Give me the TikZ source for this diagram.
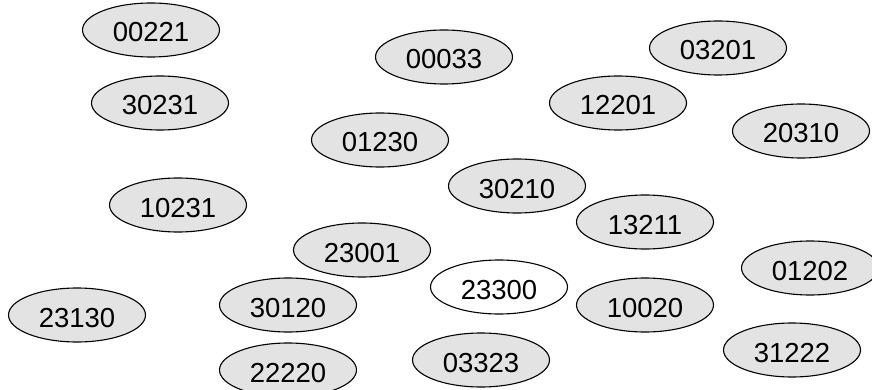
\documentclass[tikz,border=0pt]{standalone}
\usepackage{fontspec}
\setmainfont{Liberation Sans}
\usetikzlibrary{shapes.geometric}
\definecolor{bubblefill}{HTML}{E3E3E3}
\tikzset{
  bubble/.style={ellipse, draw=black, line width=1.1pt, fill=bubblefill,
    minimum width=137pt, minimum height=54pt, inner sep=0pt,
    text height=24pt, text depth=0pt,
    font=\fontsize{27.5}{30}\selectfont},
  whitebubble/.style={bubble, fill=white}
}
\begin{document}
\begin{tikzpicture}[x=1pt,y=-1pt]
\useasboundingbox (0,0) rectangle (872,390);
\node[bubble] (n00221) at (151,30) {00221};
\node[bubble] (n30231) at (160,103) {30231};
\node[bubble] (n00033) at (444,57) {00033};
\node[bubble] (n01230) at (380,140) {01230};
\node[bubble] (n30210) at (517,186) {30210};
\node[bubble] (n03201) at (718,48) {03201};
\node[bubble] (n12201) at (618,103) {12201};
\node[bubble] (n20310) at (801,131) {20310};
\node[bubble] (n10231) at (178,205) {10231};
\node[bubble] (n23001) at (362,250) {23001};
\node[bubble] (n23130) at (77,315) {23130};
\node[bubble] (n30120) at (288,305) {30120};
\node[bubble] (n22220) at (288,370) {22220};
\node[bubble] (n13211) at (645,222) {13211};
\node[whitebubble] (n23300) at (499,287) {23300};
\node[bubble] (n10020) at (645,305) {10020};
\node[bubble] (n01202) at (810,268) {01202};
\node[bubble] (n03323) at (481,360) {03323};
\node[bubble] (n31222) at (792,350) {31222};
\end{tikzpicture}
\end{document}
